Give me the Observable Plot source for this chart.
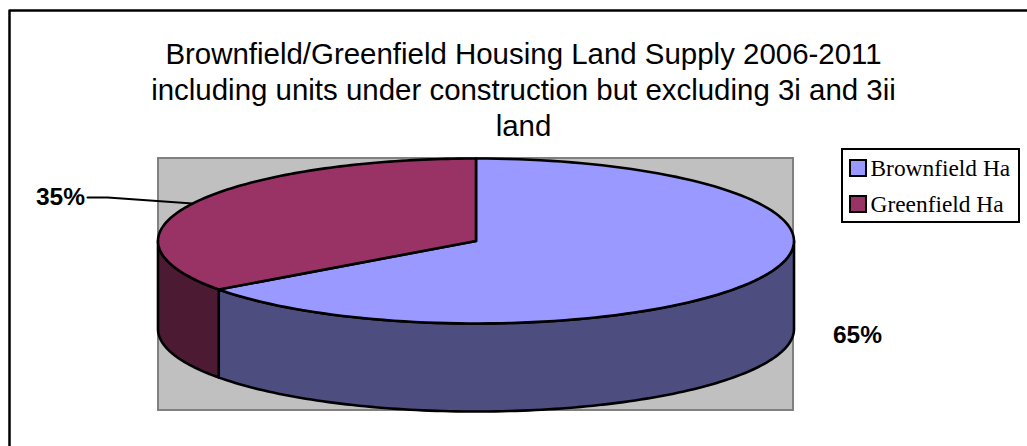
<!DOCTYPE html>
<html><head><meta charset="utf-8">
<style>html,body{margin:0;padding:0;background:#fff}svg{display:block}</style>
<script src="https://cdn.jsdelivr.net/npm/d3@7"></script>
<script src="https://cdn.jsdelivr.net/npm/@observablehq/plot@0.6"></script>
</head><body>
<script>
const categories = ["Brownfield Ha", "Greenfield Ha"];
const shares = [65, 35];
const topColors = ["#9999ff", "#993366"];
const sideColors = ["#4d4d80", "#4d1a33"];
const titleLines = ["Brownfield/Greenfield Housing Land Supply 2006-2011",
  "including units under construction but excluding 3i and 3ii", "land"];

const W = 1027, H = 446;
const cx = 475.5, cy = 240.5, rx = 318, ry = 82.5, depth = 88;
const pt = (a, dz = 0) => ({x: cx + rx * Math.sin(a), y: cy - ry * Math.cos(a) + dz});
const arc = (a0, a1, dz = 0, n = 120) => d3.range(n + 1).map(i => pt(a0 + (a1 - a0) * i / n, dz));

const total = d3.sum(shares);
let acc = 0;
const slices = categories.map((c, i) => {
  const a0 = acc / total * 2 * Math.PI; acc += shares[i];
  return {c, i, a0, a1: acc / total * 2 * Math.PI, share: shares[i]};
});
const tag = (pts, s) => pts.map(p => ({...p, s}));
const topFaces = slices.flatMap(s => tag([{x: cx, y: cy}, ...arc(s.a0, s.a1), {x: cx, y: cy}], s.c));
// visible rim: the front half of the ellipse, from the right extreme to the left extreme
const sideFaces = slices.flatMap(s => {
  const a0 = Math.max(s.a0, Math.PI / 2), a1 = Math.min(s.a1, 1.5 * Math.PI);
  return tag([...arc(a0, a1), ...arc(a0, a1, depth).reverse(), pt(a0)], s.c);
});
const faceLine = (data, colors) => Plot.line(data, {x: "x", y: "y", z: "s",
  fill: d => colors[categories.indexOf(d.s)], stroke: "#000", strokeWidth: 2.6, strokeLinejoin: "round", curve: "linear"});

const legendRows = categories.map((c, i) => ({c, y: 168 + i * 36, color: topColors[i]}));
const boldText = {fontFamily: "Liberation Sans, Arial, sans-serif", fontWeight: "bold", fontSize: 24.5, fill: "#000"};

const chart = Plot.plot({
  width: W, height: H, margin: 0,
  style: {background: "#fff", overflow: "hidden"},
  x: {domain: [0, W], range: [0, W], axis: null},
  y: {domain: [0, H], range: [0, H], axis: null},
  marks: [
    // chart frame: only its top and left edges fall inside the picture
    Plot.line([{x: 9, y: H}, {x: 9, y: 10}, {x: W, y: 10}], {x: "x", y: "y", stroke: "#000", strokeWidth: 2.5, curve: "linear"}),
    Plot.text(titleLines, {x: 523, y: (d, i) => 54 + i * 36, text: d => d, textAnchor: "middle",
      fontFamily: "Liberation Sans, Arial, sans-serif", fontSize: 29.45, fill: "#000"}),
    // plot area
    Plot.rect([0], {x1: 158, x2: 793, y1: 158, y2: 410, fill: "#c0c0c0", stroke: "#808080", strokeWidth: 2}),
    faceLine(sideFaces, sideColors),
    faceLine(topFaces, topColors),
    // data labels
    Plot.line([{x: 87, y: 197}, {x: 107, y: 197}, {x: 192, y: 203}], {x: "x", y: "y", stroke: "#000", strokeWidth: 2, curve: "linear"}),
    Plot.text([`${shares[1]}%`], {x: 60, y: 197, text: d => d, textAnchor: "middle", ...boldText}),
    Plot.text([`${shares[0]}%`], {x: 857, y: 335, text: d => d, textAnchor: "middle", ...boldText}),
    // legend
    Plot.rect([0], {x1: 842, x2: 1019, y1: 149, y2: 222, fill: "#fff", stroke: "#000", strokeWidth: 2}),
    Plot.rect(legendRows, {x1: 850, x2: 866, y1: d => d.y - 8, y2: d => d.y + 8, fill: "color", stroke: "#000", strokeWidth: 2}),
    Plot.text(legendRows, {x: 870, y: "y", text: "c", textAnchor: "start",
      fontFamily: "Liberation Serif, Times New Roman, serif", fontSize: 23.4, fill: "#000"})
  ]
});
document.body.appendChild(chart);
</script>
</body></html>
